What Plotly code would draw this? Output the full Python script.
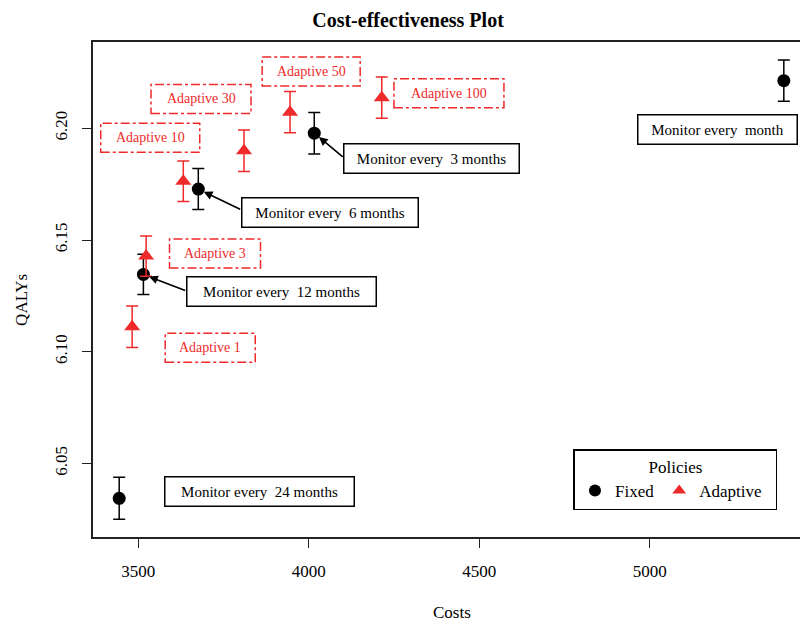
import plotly.graph_objects as go

# ---------------- data ----------------
fixed_labels = ["Monitor every  24 months", "Monitor every  12 months",
                "Monitor every  6 months", "Monitor every  3 months",
                "Monitor every  month"]
fixed_costs = [3444, 3515, 3676, 4016, 5393]
fixed_qalys = [6.0344, 6.1346, 6.1728, 6.1978, 6.2213]
fixed_err = [0.0094, 0.0090, 0.0092, 0.0093, 0.0092]

adaptive_labels = ["Adaptive 1", "Adaptive 3", "Adaptive 10",
                   "Adaptive 30", "Adaptive 50", "Adaptive 100"]
adaptive_costs = [3482, 3523, 3632, 3810, 3945, 4214]
adaptive_qalys = [6.1112, 6.1428, 6.1763, 6.1899, 6.2072, 6.2137]
adaptive_err = [0.0093, 0.0090, 0.0091, 0.0093, 0.0092, 0.0092]

x_ticks = [3500, 4000, 4500, 5000]
y_ticks = [6.05, 6.10, 6.15, 6.20]

# label positions (data coords) for annotation boxes
fixed_label_pos = [(3855, 6.0373), (3920, 6.1270), (4062, 6.1621),
                   (4361, 6.1863), (5198, 6.1993)]
fixed_label_w = [188, 188, 175, 174, 158]
arrow_tails = {1: (3642, 6.1271), 2: (3803, 6.1634), 3: (4104, 6.1866)}

adaptive_label_pos = [(3711, 6.1018), (3725, 6.1440), (3535, 6.1958),
                      (3684, 6.2131), (4007, 6.2254), (4411, 6.2157)]
adaptive_label_w = [90, 91, 99, 100, 98, 110]

FONT = "Liberation Serif"
RED = "#EE2A2A"

fig = go.Figure()
fig.add_trace(go.Scatter(
    x=fixed_costs, y=fixed_qalys, mode="markers", name="Fixed",
    marker=dict(symbol="circle", size=13, color="black"),
    error_y=dict(type="data", array=fixed_err, color="black", thickness=1.5, width=6),
))
fig.add_trace(go.Scatter(
    x=adaptive_costs, y=adaptive_qalys, mode="markers", name="Adaptive\u00a0\u00a0",
    marker=dict(symbol="triangle-up", size=14, color=RED),
    error_y=dict(type="data", array=adaptive_err, color=RED, thickness=1.5, width=6),
))

annotations = []
shapes = []
for i, (lab, (lx, ly), w) in enumerate(zip(fixed_labels, fixed_label_pos, fixed_label_w)):
    annotations.append(dict(
        x=lx, y=ly, xref="x", yref="y", text=lab.replace("  ", "\u00a0 "),
        showarrow=False, font=dict(family=FONT, size=15, color="black"),
        bordercolor="black", borderwidth=1.5, bgcolor="white",
        width=w, height=28, borderpad=0, align="center"))
    if i in arrow_tails:
        tx, ty = arrow_tails[i]
        annotations.append(dict(
            x=fixed_costs[i], y=fixed_qalys[i], xref="x", yref="y",
            ax=tx, ay=ty, axref="x", ayref="y", text="", showarrow=True,
            arrowhead=2, arrowsize=1.1, arrowwidth=1.6, arrowcolor="black",
            standoff=6))

for lab, (lx, ly), w in zip(adaptive_labels, adaptive_label_pos, adaptive_label_w):
    annotations.append(dict(
        x=lx, y=ly, xref="x", yref="y", text=lab, showarrow=False,
        font=dict(family=FONT, size=14, color=RED)))
    shapes.append(dict(
        type="rect", xref="x", yref="y", xsizemode="pixel", ysizemode="pixel",
        xanchor=lx, yanchor=ly, x0=-w / 2, x1=w / 2, y0=-14.5, y1=14.5,
        line=dict(color=RED, width=1.5, dash="dashdot"), fillcolor="rgba(0,0,0,0)"))

# axis titles as paper annotations
annotations.append(dict(x=0.502, y=-0.1535, xref="paper", yref="paper", text="Costs",
                        showarrow=False, xanchor="center", yanchor="middle",
                        font=dict(family=FONT, size=17)))
annotations.append(dict(x=-0.0993, y=0.479, xref="paper", yref="paper", text="QALYs",
                        showarrow=False, xanchor="center", yanchor="middle", textangle=-90,
                        font=dict(family=FONT, size=17)))

fig.update_layout(
    width=800, height=617,
    margin=dict(l=85, r=0, t=34, b=88, autoexpand=False),
    paper_bgcolor="white", plot_bgcolor="white",
    font=dict(family=FONT, size=17, color="black"),
    title=dict(text="<b>Cost-effectiveness Plot</b>", x=0.5, xanchor="center",
               y=0.981, yanchor="middle", font=dict(family=FONT, size=20)),
    xaxis=dict(range=[3367.2, 5463.9], tickvals=x_ticks, ticktext=[str(v) for v in x_ticks],
               automargin=False, ticklabelstandoff=9,
               showgrid=False, zeroline=False, showline=True, linecolor="#222",
               linewidth=1.5, mirror=True, ticks="outside", ticklen=9, tickwidth=1.2,
               tickcolor="#222", tickfont=dict(size=17)),
    yaxis=dict(range=[6.0171, 6.2386], tickvals=y_ticks, ticktext=[f"{v:.2f}" for v in y_ticks],
               automargin=False, ticklabelstandoff=8,
               showgrid=False, zeroline=False, showline=True, linecolor="#222",
               linewidth=1.5, mirror=True, ticks="outside", ticklen=9, tickwidth=1.2,
               tickcolor="#222", tickangle=-90, tickfont=dict(size=17)),
    legend=dict(x=0.672, y=0.177, xanchor="left", yanchor="top", orientation="h",
                bordercolor="black", borderwidth=1.5, bgcolor="white",
                title=dict(text="Policies", side="top center", font=dict(size=17)),
                font=dict(size=17), itemsizing="constant"),
    annotations=annotations, shapes=shapes, showlegend=True,
)

fig.write_html("out.html")
